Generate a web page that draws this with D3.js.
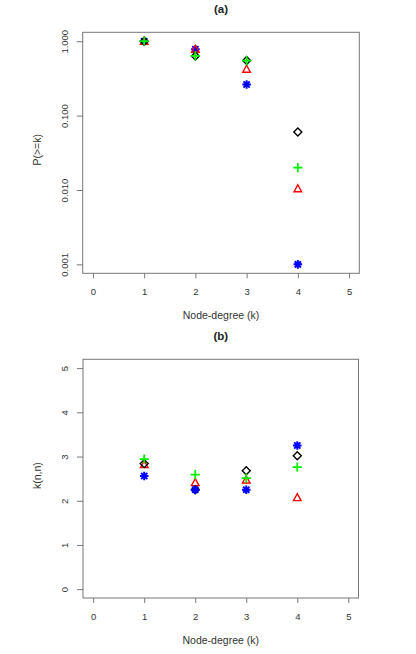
<!DOCTYPE html>
<html>
<head>
<meta charset="utf-8">
<script src="https://cdn.jsdelivr.net/npm/d3@7"></script>
<style>
  html, body { margin: 0; padding: 0; background: #fff; }
  svg { display: block; font-family: "Liberation Sans", Arial, sans-serif; }
</style>
</head>
<body>
<svg id="chart" width="416" height="654"></svg>
<script>
// ---- data ----
const degrees = [1, 2, 3, 4];
const xTicks = [0, 1, 2, 3, 4, 5];

// panel (a): P(>=k), log scale
const cumBlack = [1.0, 0.635, 0.55, 0.06];
const cumRed   = [1.0, 0.78, 0.42, 0.0104];
const cumGreen = [1.0, 0.635, 0.55, 0.02];
const cumBlue  = [1.0, 0.78, 0.262, 0.001];
const yTicksA = [0.001, 0.01, 0.1, 1];

// panel (b): k(n,n)
const knnBlack = [2.84, 2.25, 2.68, 3.02];
const knnRed   = [2.82, 2.41, 2.47, 2.07];
const knnGreen = [2.94, 2.59, 2.51, 2.76];
const knnBlue  = [2.56, 2.25, 2.25, 3.25];
const yTicksB = [0, 1, 2, 3, 4, 5];

const titles = ["(a)", "(b)"];
const yLabels = ["P(>=k)", "k(n,n)"];
const xLabel = "Node-degree (k)";

// ---- drawing ----
const svg = d3.select("#chart");
const boxGray = "#777";
const textCol = "#333";

const symbolPaths = {
  diamond: r => `M0,${-r}L${r},0L0,${r}L${-r},0Z`,
  triangle: r => `M0,${-r}L${r*0.95},${r*0.75}L${-r*0.95},${r*0.75}Z`,
  plus: r => `M${-r},0L${r},0M0,${-r}L0,${r}`,
  asterisk: r => { const d = r * 0.72; return `M${-r},0L${r},0M0,${-r}L0,${r}M${-d},${-d}L${d},${d}M${-d},${d}L${d},${-d}`; }
};

function panel(cfg) {
  const { top, bottom, left, right, y, yTicks, yFmt, series, title, yLabel } = cfg;
  const x = d3.scaleLinear().domain([-0.2, 5.2]).range([left, right]);
  const g = svg.append("g");

  // box
  g.append("rect").attr("x", left).attr("y", top)
    .attr("width", right - left).attr("height", bottom - top)
    .attr("fill", "none").attr("stroke", boxGray).attr("stroke-width", 1);

  // x axis
  const xa = g.append("g").attr("transform", `translate(0,${bottom})`)
    .call(d3.axisBottom(x).tickValues(xTicks).tickSize(5).tickPadding(10).tickFormat(d3.format("d")));
  xa.select(".domain").remove();
  xa.selectAll("line").attr("stroke", boxGray);
  xa.selectAll("text").attr("fill", textCol).attr("font-size", 9.5)
    .attr("font-family", "Liberation Sans, Arial, sans-serif");

  // y axis
  const ya = g.append("g").attr("transform", `translate(${left},0)`)
    .call(d3.axisLeft(y).tickValues(yTicks).tickSize(6).tickFormat(yFmt));
  ya.select(".domain").remove();
  ya.selectAll("line").attr("stroke", boxGray);
  ya.selectAll("text").attr("fill", textCol).attr("font-size", 9.5)
    .attr("font-family", "Liberation Sans, Arial, sans-serif")
    .attr("x", null).attr("dy", "0.35em").attr("text-anchor", "middle")
    .attr("transform", "translate(-18,0) rotate(-90)");

  // titles
  g.append("text").attr("x", (left + right) / 2).attr("y", top - 19)
    .attr("text-anchor", "middle").attr("font-weight", "bold").attr("font-size", 11.5)
    .attr("fill", "#222").text(title);
  g.append("text").attr("x", (left + right) / 2).attr("y", bottom + 46)
    .attr("text-anchor", "middle").attr("font-size", 10.5).attr("fill", textCol).text(xLabel);
  g.append("text").attr("transform", `translate(37,${(top + bottom) / 2 - 3}) rotate(-90)`)
    .attr("dy", "0.35em").attr("text-anchor", "middle").attr("font-size", 10.5)
    .attr("fill", textCol).text(yLabel);

  // points
  series.forEach(s => {
    g.append("g").selectAll("path").data(s.values).join("path")
      .attr("transform", (v, i) => `translate(${x(degrees[i])},${y(v)})`)
      .attr("d", symbolPaths[s.shape](s.r))
      .attr("fill", "none").attr("stroke", s.color).attr("stroke-width", s.sw)
      .attr("stroke-linecap", "butt");
  });
}

const seriesA = [
  { values: cumBlue, color: "#0000ff", shape: "asterisk", r: 4.3, sw: 2.0 },
  { values: cumRed, color: "#ff0000", shape: "triangle", r: 4.0, sw: 1.4 },
  { values: cumBlack, color: "#000000", shape: "diamond", r: 4.0, sw: 1.4 },
  { values: cumGreen, color: "#00ee00", shape: "plus", r: 4.6, sw: 1.8 }
];
const seriesB = [
  { values: knnRed, color: "#ff0000", shape: "triangle", r: 4.0, sw: 1.4 },
  { values: knnBlack, color: "#000000", shape: "diamond", r: 4.0, sw: 1.4 },
  { values: knnBlue, color: "#0000ff", shape: "asterisk", r: 4.3, sw: 2.0 },
  { values: knnGreen, color: "#00ee00", shape: "plus", r: 4.6, sw: 1.8 }
];

const topA = 32.3, bottomA = 273.3;
panel({
  top: topA, bottom: bottomA, left: 82.7, right: 359.3,
  y: d3.scaleLog().domain([Math.pow(10, -3.12), Math.pow(10, 0.12)]).range([bottomA, topA]),
  yTicks: yTicksA, yFmt: d3.format(".3f"), series: seriesA,
  title: titles[0], yLabel: yLabels[0]
});

const topB = 359.3, bottomB = 598;
panel({
  top: topB, bottom: bottomB, left: 83, right: 358.5,
  y: d3.scaleLinear().domain([-0.2, 5.2]).range([bottomB, topB]),
  yTicks: yTicksB, yFmt: d3.format("d"), series: seriesB,
  title: titles[1], yLabel: yLabels[1]
});
</script>
</body>
</html>
